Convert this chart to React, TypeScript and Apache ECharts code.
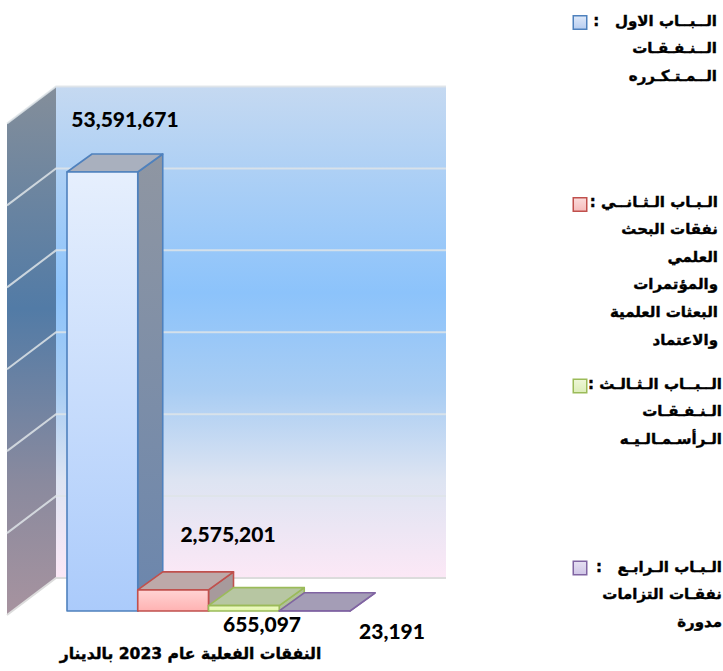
import React, { useEffect, useRef } from "react";
import * as echarts from "echarts";

const categories = ["الباب الاول", "الباب الثاني", "الباب الثالث", "الباب الرابع"];
const values = [53591671, 2575201, 655097, 23191];
const yTicks = [0, 10000000, 20000000, 30000000, 40000000, 50000000, 60000000];
const axisTitle = "النفقات الفعلية عام 2023 بالدينار";

const legendLines1 = ["الــبــاب الاول\u00A0\u00A0\u00A0:\u200F", "الــنـفـقـات", "الــمـتـكـرره"];
const legendLines2 = ["الـبـاب الـثـانــي :\u200F", "نفقات البحث", "العلمي", "والمؤتمرات", "البعثات العلمية", "والاعتماد"];
const legendLines3 = ["الــبــاب الـثـالـث :\u200F", "الـنـفـقـات", "الـرأسـمـالـيـه"];
const legendLines4 = ["الـبـاب الـرابـع\u00A0\u00A0\u00A0:\u200F", "نفقـات التزامات", "مدورة"];

// styling and placement tables, kept apart from the values
const BAR_DEPTH = [25, -18];
const WALL_DEPTH = [49, -37];
const WALL_RIGHT = 446;
const LABEL_CENTERS = [[125, 118.5], [228, 533.5], [262, 623.5], [392, 630.5]];
const LEGEND_LAYOUT = [
  { lines: legendLines1, top: 20.5, right: 717, iconY: 22 },
  { lines: legendLines2, top: 201.5, right: 718, iconY: 204 },
  { lines: legendLines3, top: 383.5, right: 722, iconY: 385.5 },
  { lines: legendLines4, top: 566.5, right: 722, iconY: 567.5 },
];
const PALETTE = [
  { border: "#4f81bd", front: ["#e6effd", "#abcbfb"], top: "#a9b0be", side: ["#8f96a2", "#6b86ad"], icon: ["#dfe9f9", "#b7cdf0"] },
  { border: "#c0504d", front: ["#ffd4d4", "#ffb2b2"], top: "#bda9a9", side: ["#a79a9c", "#a79a9c"], icon: ["#fbdcdc", "#f5bcbc"] },
  { border: "#9bbb59", front: ["#f0fac8", "#e2f8a8"], top: "#b7c6a2", side: ["#b0c09a", "#b0c09a"], icon: ["#eef6d8", "#dcedb8"] },
  { border: "#8064a2", front: ["#dcd3ee", "#cfc3e6"], top: "#a49db6", side: ["#a49db6", "#a49db6"], icon: ["#e6e0f2", "#cfc5e6"] },
];

const grad = (stops: [number, string][]) =>
  new echarts.graphic.LinearGradient(
    0, 0, 0, 1,
    stops.map(([offset, color]) => ({ offset, color })),
  );

const wallRender = (_p: any, api: any) => {
  const bottomFront = api.coord([0, 0])[1];
  const topFront = api.coord([0, yTicks[yTicks.length - 1]])[1];
  const left = 7;
  const backX = left + WALL_DEPTH[0];
  const children: any[] = [
    {
      type: "polygon",
      shape: { points: [[left, topFront + 4], [backX, topFront + 4 + WALL_DEPTH[1]], [backX, bottomFront + 4 + WALL_DEPTH[1]], [left, bottomFront + 4]] },
      style: {
        fill: grad([[0, "#848e9a"], [0.42, "#527ba6"], [0.75, "#8a8a9e"], [1, "#a7939f"]]),
      },
    },
    {
      type: "rect",
      shape: { x: backX, y: topFront + WALL_DEPTH[1] + 4, width: WALL_RIGHT - backX, height: bottomFront - topFront },
      style: {
        fill: grad([[0, "#c5d9f1"], [0.42, "#8cc3fb"], [0.62, "#a9cdf3"], [0.8, "#dde4f2"], [1, "#fce8f6"]]),
      },
    },
  ];
  yTicks.forEach((tick) => {
    const y = api.coord([0, tick])[1] + 4;
    const backY = y + WALL_DEPTH[1];
    children.push({
      type: "polyline",
      shape: { points: [[left, y], [backX, backY], [WALL_RIGHT, backY]] },
      style: { fill: "none", stroke: tick === 0 ? "#dcdcdc" : "rgba(222,228,232,0.85)", lineWidth: 2 },
    });
  });
  return { type: "group", children };
};

const barRender = (params: any, api: any) => {
  const i = params.dataIndex;
  const c = api.coord([api.value(0), 0]);
  const t = api.coord([api.value(0), api.value(1)]);
  const w = api.size([1, 0])[0];
  const x0 = c[0] - w / 2;
  const x1 = c[0] + w / 2;
  const y0 = c[1];
  const y1 = t[1];
  const [dx, dy] = BAR_DEPTH;
  const p = PALETTE[i];
  const stroke = { stroke: p.border, lineWidth: 1.6, lineJoin: "round" };
  const [lx, ly] = LABEL_CENTERS[i];
  return {
    type: "group",
    children: [
      { type: "polygon", shape: { points: [[x1, y1], [x1 + dx, y1 + dy], [x1 + dx, y0 + dy], [x1, y0]] }, style: { fill: grad([[0, p.side[0]], [1, p.side[1]]]), ...stroke } },
      { type: "polygon", shape: { points: [[x0, y1], [x0 + dx, y1 + dy], [x1 + dx, y1 + dy], [x1, y1]] }, style: { fill: p.top, ...stroke } },
      { type: "rect", shape: { x: x0, y: y1, width: x1 - x0, height: y0 - y1 }, style: { fill: grad([[0, p.front[0]], [1, p.front[1]]]), ...stroke } },
      {
        type: "text",
        style: {
          x: lx, y: ly,
          text: api.value(1).toLocaleString("en-US"),
          fill: "#000", font: "900 21px Lato", align: "center", verticalAlign: "middle",
        },
      },
    ],
  };
};

const legendGraphics = () => {
  const out: any[] = [];
  LEGEND_LAYOUT.forEach((item, i) => {
    out.push({
      type: "rect", left: 572.5, top: item.iconY - 7,
      shape: { x: 0, y: 0, width: 13.5, height: 13.5 },
      style: { fill: grad([[0, PALETTE[i].icon[0]], [1, PALETTE[i].icon[1]]]), stroke: PALETTE[i].border, lineWidth: 1.5 },
    });
    item.lines.forEach((text, n) => {
      out.push({
        type: "text", x: item.right, y: item.top + n * 27.6,
        style: { text, fill: "#000", stroke: "#000", lineWidth: 0.4, font: "bold 15px 'DejaVu Sans'", align: "right", verticalAlign: "middle" },
      });
    });
  });
  return out;
};

export default function App() {
  const ref = useRef<HTMLDivElement>(null);
  useEffect(() => {
    document.body.style.margin = "0";
    const chart = echarts.init(ref.current!, null, { renderer: "svg" });
    chart.setOption({
      animation: false,
      backgroundColor: "#fff",
      grid: { left: 67, width: 283, top: 119.5, height: 491.5, containLabel: false },
      xAxis: {
        type: "category",
        data: categories,
        axisLine: { show: false },
        axisTick: { show: false },
        axisLabel: { show: false },
        name: axisTitle,
        nameLocation: "middle",
        nameGap: 35,
        nameTextStyle: { color: "#000", fontFamily: "DejaVu Sans", fontWeight: "bold", fontSize: 15.6, textBorderColor: "#000", textBorderWidth: 0.4, padding: [0, 36, 0, 0] },
      },
      yAxis: {
        type: "value", min: 0, max: 60000000, interval: 10000000,
        axisLine: { show: false }, axisTick: { show: false }, axisLabel: { show: false }, splitLine: { show: false },
      },
      graphic: legendGraphics(),
      series: [
        { type: "custom", silent: true, z: 1, clip: false, data: [[0, 0]], encode: { x: 0, y: 1 }, renderItem: wallRender },
        { type: "custom", silent: true, z: 2, clip: false, data: values.map((v, i) => [i, v]), encode: { x: 0, y: 1 }, renderItem: barRender },
      ],
    });
    return () => chart.dispose();
  }, []);
  return <div ref={ref} style={{ width: 723, height: 671 }} />;
}
